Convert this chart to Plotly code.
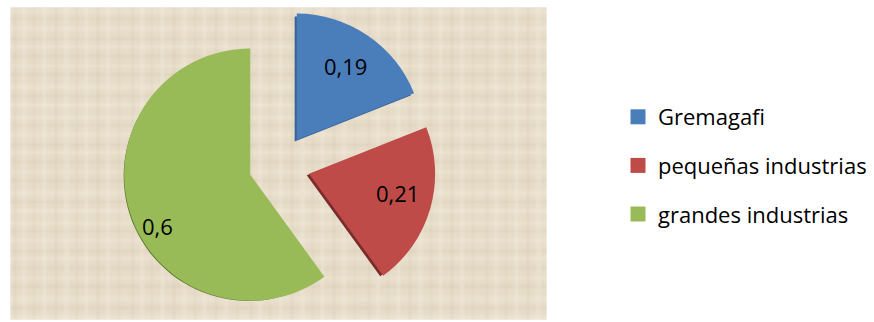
import base64
import plotly.graph_objects as go

# Share of each segment
labels = ["Gremagafi", "pequeñas industrias", "grandes industrias"]
values = [0.19, 0.21, 0.6]
colors = ["#4A7EBB", "#BE4B48", "#98BB57"]
shadow_colors = ["#3A6496", "#7A2C2A", "#5E7A33"]

W, H = 874, 322
FONT = "Open Sans"

# Pie placement (pixels): centre and half-size of the square domain
cx, cy, half = 279.5, 165.3, 157.0
pull = 0.244

# Value label anchors (pixels from top-left)
label_xy = [(345, 66), (397, 193), (157, 226)]

# Canvas panel behind the pie
panel = dict(x0=10, x1=547, y0=7, y1=320)


def dom(dx=0.0, dy=0.0):
    x0 = (cx - half + dx) / W
    x1 = (cx + half + dx) / W
    y0 = max(0.0, (H - (cy + dy) - half) / H)
    y1 = (H - (cy + dy) + half) / H
    return dict(x=[x0, x1], y=[y0, y1])


def canvas_texture(w, h):
    """Woven linen look: a repeating tile of soft light and dark threads."""
    tw, th = 118, 106
    light, dark = "#F2EBDE", "#CFC2AA"
    rows = [(3, 3, light, 0.45), (11, 2, dark, 0.25), (19, 5, light, 0.35),
            (31, 2, dark, 0.3), (38, 3, light, 0.4), (47, 4, dark, 0.2),
            (58, 2, light, 0.45), (66, 3, dark, 0.28), (77, 6, light, 0.3),
            (88, 2, dark, 0.3), (96, 4, light, 0.4)]
    cols = [(4, 2, dark, 0.28), (12, 4, light, 0.35), (23, 2, dark, 0.22),
            (33, 3, light, 0.45), (45, 2, dark, 0.3), (54, 5, light, 0.3),
            (66, 2, dark, 0.25), (75, 3, light, 0.4), (87, 2, dark, 0.3),
            (96, 4, light, 0.35), (108, 2, dark, 0.22)]
    parts = []
    for y, t, c, o in rows:
        parts.append(f'<rect x="0" y="{y}" width="{tw}" height="{t}" fill="{c}" fill-opacity="{o}"/>')
    for x, t, c, o in cols:
        parts.append(f'<rect x="{x}" y="0" width="{t}" height="{th}" fill="{c}" fill-opacity="{o}"/>')
    svg = (
        f'<svg xmlns="http://www.w3.org/2000/svg" width="{w}" height="{h}" viewBox="0 0 {w} {h}">'
        f'<defs><pattern id="p" width="{tw}" height="{th}" patternUnits="userSpaceOnUse">'
        f'<rect width="{tw}" height="{th}" fill="#E6DCC8"/>' + "".join(parts) +
        '</pattern><filter id="b"><feGaussianBlur stdDeviation="1.1"/></filter></defs>'
        f'<rect width="{w}" height="{h}" fill="url(#p)" filter="url(#b)"/></svg>'
    )
    return "data:image/svg+xml;base64," + base64.b64encode(svg.encode()).decode()


fig = go.Figure()

# darker copy behind the slices for the bevelled edge
fig.add_trace(go.Pie(
    labels=labels, values=values, sort=False, direction="clockwise",
    rotation=0, pull=pull, domain=dom(-2, 3),
    marker=dict(colors=shadow_colors, line=dict(width=0)),
    textinfo="none", hoverinfo="skip", showlegend=False,
))

fig.add_trace(go.Pie(
    labels=labels, values=values, sort=False, direction="clockwise",
    rotation=0, pull=pull, domain=dom(),
    marker=dict(colors=colors, line=dict(width=0)),
    textinfo="none", showlegend=False,
))

# legend entries
for lab, col in zip(labels, colors):
    fig.add_trace(go.Scatter(
        x=[None], y=[None], mode="markers", name=lab, legendgroup=lab,
        marker=dict(symbol="square", size=15, color=col),
        showlegend=True,
    ))

# value labels, written with a decimal comma
annotations = [
    dict(x=px / W, y=1 - py / H, xref="paper", yref="paper",
         text=f"{v:g}".replace(".", ","), showarrow=False,
         font=dict(family=FONT, size=22, color="black"),
         xanchor="center", yanchor="middle")
    for v, (px, py) in zip(values, label_xy)
]

fig.update_layout(
    width=W, height=H,
    margin=dict(l=0, r=0, t=0, b=0),
    paper_bgcolor="white", plot_bgcolor="rgba(0,0,0,0)",
    separators=",.",
    xaxis=dict(visible=False), yaxis=dict(visible=False),
    legend=dict(
        x=618 / W, y=1 - 96 / H, xanchor="left", yanchor="top",
        font=dict(family=FONT, size=22, color="black"),
        tracegroupgap=17, bgcolor="rgba(0,0,0,0)",
    ),
    images=[dict(
        source=canvas_texture(panel["x1"] - panel["x0"], panel["y1"] - panel["y0"]),
        xref="paper", yref="paper",
        x=panel["x0"] / W, y=1 - panel["y0"] / H,
        sizex=(panel["x1"] - panel["x0"]) / W, sizey=(panel["y1"] - panel["y0"]) / H,
        xanchor="left", yanchor="top", sizing="stretch", layer="below",
    )],
    annotations=annotations,
)

fig.write_html("out.html")
